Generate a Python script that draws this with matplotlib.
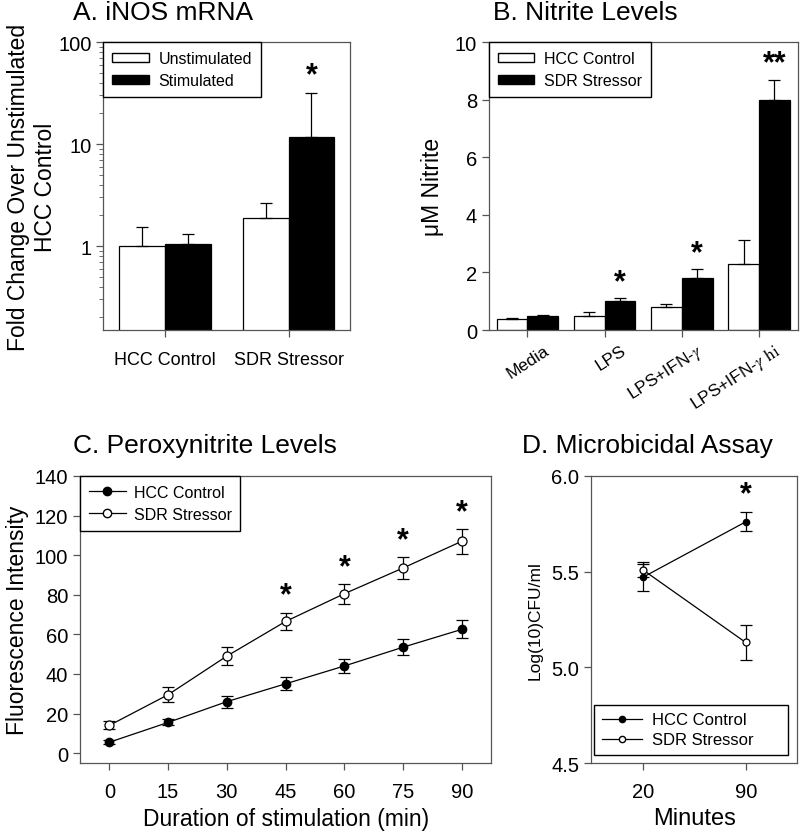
import numpy as np
import matplotlib
matplotlib.use("Agg")
from matplotlib import pyplot as plt
from matplotlib.patches import Patch
from matplotlib.lines import Line2D
from matplotlib.ticker import FixedLocator, FixedFormatter, LogLocator, NullFormatter
from matplotlib.transforms import ScaledTranslation

plt.rcParams['font.family'] = ['Liberation Sans', 'DejaVu Sans']
plt.rcParams['mathtext.fontset'] = 'stix'

# A. iNOS mRNA (log scale)
a_groups = ['HCC Control', 'SDR Stressor']
a_unstim = [1.0, 1.9]
a_unstim_err = [0.53, 0.72]
a_stim = [1.05, 11.6]
a_stim_err = [0.26, 19.8]

# B. Nitrite levels
b_groups = ['Media', 'LPS', r'LPS+IFN-$\gamma$', r'LPS+IFN-$\gamma$ $\mathrm{hi}$']
b_hcc = [0.37, 0.5, 0.8, 2.28]
b_hcc_err = [0.04, 0.13, 0.12, 0.85]
b_sdr = [0.48, 1.0, 1.8, 8.0]
b_sdr_err = [0.05, 0.1, 0.32, 0.7]
b_stars = ['', '*', '*', '**']

# C. Peroxynitrite levels
c_minutes = [0, 15, 30, 45, 60, 75, 90]
c_hcc = [5.5, 15.5, 26, 35, 44, 53.5, 62.5]
c_hcc_err = [1.0, 1.5, 3.0, 3.3, 3.7, 4.0, 4.5]
c_sdr = [14, 29.5, 49, 66.5, 80.5, 93.5, 107]
c_sdr_err = [2.0, 3.7, 4.5, 4.5, 5.0, 5.5, 6.3]
c_star_at = [45, 60, 75, 90]

# D. Microbicidal assay
d_labels = ['20', '90']
d_hcc = [5.47, 5.76]
d_hcc_err = [0.07, 0.05]
d_sdr = [5.51, 5.13]
d_sdr_err = [0.04, 0.09]

spine_col = '#555555'
lw = 0.9
title_fs = 19
label_fs = 16.5
tick_fs = 14.5


def style_axes(ax):
    for s in ax.spines.values():
        s.set_color(spine_col)
        s.set_linewidth(lw)
    ax.tick_params(direction='out', color=spine_col, width=lw, length=5, labelsize=tick_fs)


def star(ax, x, y, txt='*'):
    ax.text(x, y, txt, ha='center', va='center', fontsize=22, fontweight='bold')


def bar_legend(ax, labels):
    ax.legend(handles=[Patch(facecolor='white', edgecolor='black', label=labels[0]),
                       Patch(facecolor='black', edgecolor='black', label=labels[1])],
              loc='upper left', borderaxespad=0, fancybox=False, framealpha=1,
              edgecolor='black', fontsize=11.5, handlelength=2.3, handleheight=0.5,
              handletextpad=0.6, borderpad=0.55, labelspacing=0.45)


fig = plt.figure(figsize=(8, 8.37), dpi=100)

# ---- Panel A ----
ax = fig.add_axes([0.129, 0.6045, 0.309, 0.344])
ax.set_yscale('log')
x = np.arange(len(a_groups))
w = 0.37
ax.bar(x - w / 2, a_unstim, w, color='white', edgecolor='black', linewidth=lw)
ax.bar(x + w / 2, a_stim, w, color='black', edgecolor='black', linewidth=lw)
ax.errorbar(x - w / 2, a_unstim, yerr=[np.zeros(len(x)), a_unstim_err], fmt='none',
            ecolor='black', elinewidth=lw, capsize=4, capthick=lw)
ax.errorbar(x + w / 2, a_stim, yerr=[np.zeros(len(x)), a_stim_err], fmt='none',
            ecolor='black', elinewidth=lw, capsize=4, capthick=lw)
star(ax, x[1] + w / 2, 47)
ax.set_xlim(-0.5, 1.5)
ax.set_ylim(0.15, 100)
ax.set_xticks(x)
ax.yaxis.set_major_locator(FixedLocator([1, 10, 100]))
ax.yaxis.set_major_formatter(FixedFormatter(['1', '10', '100']))
ax.yaxis.set_minor_locator(LogLocator(base=10, subs=np.arange(2, 10)))
ax.yaxis.set_minor_formatter(NullFormatter())
style_axes(ax)
ax.set_xticklabels(a_groups, fontsize=13)
ax.tick_params(axis='y', which='minor', length=3, color=spine_col)
ax.tick_params(axis='x', pad=10)
ax.set_ylabel('Fold Change Over Unstimulated\nHCC Control', fontsize=label_fs,
              labelpad=1, linespacing=1.2)
bar_legend(ax, ['Unstimulated', 'Stimulated'])
fig.text(73 / 800, 1 - 1 / 837, 'A. iNOS mRNA', fontsize=title_fs, ha='left', va='top')

# ---- Panel B ----
ax = fig.add_axes([0.611, 0.6045, 0.386, 0.344])
x = np.arange(len(b_groups))
w = 0.4
ax.bar(x - w / 2, b_hcc, w, color='white', edgecolor='black', linewidth=lw)
ax.bar(x + w / 2, b_sdr, w, color='black', edgecolor='black', linewidth=lw)
ax.errorbar(x - w / 2, b_hcc, yerr=[np.zeros(len(x)), b_hcc_err], fmt='none',
            ecolor='black', elinewidth=lw, capsize=4, capthick=lw)
ax.errorbar(x + w / 2, b_sdr, yerr=[np.zeros(len(x)), b_sdr_err], fmt='none',
            ecolor='black', elinewidth=lw, capsize=4, capthick=lw)
for i, s in enumerate(b_stars):
    if s:
        star(ax, x[i] + w / 2, b_sdr[i] + b_sdr_err[i] + 0.55, s)
ax.set_xlim(-0.5, 3.5)
ax.set_ylim(0, 10)
ax.set_yticks(np.arange(0, 11, 2))
ax.set_xticks(x)
style_axes(ax)
ax.set_xticklabels(b_groups, rotation=33, ha='right', va='center',
                   rotation_mode='anchor', fontsize=12.5)
ax.tick_params(axis='x', pad=8.5)
offset = ScaledTranslation(0.2, 0, fig.dpi_scale_trans)
for lab in ax.get_xticklabels():
    lab.set_transform(lab.get_transform() + offset)
ax.set_ylabel('μM Nitrite', fontsize=label_fs, labelpad=8)
bar_legend(ax, ['HCC Control', 'SDR Stressor'])
fig.text(493 / 800, 1 - 1 / 837, 'B. Nitrite Levels', fontsize=title_fs, ha='left', va='top')

# ---- Panel C ----
ax = fig.add_axes([0.1, 0.0872, 0.514, 0.343])
ax.errorbar(c_minutes, c_hcc, yerr=c_hcc_err, color='black', lw=lw, marker='o',
            ms=6, mfc='black', mec='black', capsize=4, capthick=lw, elinewidth=lw)
ax.errorbar(c_minutes, c_sdr, yerr=c_sdr_err, color='black', lw=lw, marker='o',
            ms=6.5, mfc='white', mec='black', mew=lw, capsize=4, capthick=lw, elinewidth=lw)
for m in c_star_at:
    i = c_minutes.index(m)
    star(ax, m, c_sdr[i] + c_sdr_err[i] + 8.5)
ax.set_xlim(-7.5, 97.5)
ax.set_ylim(-5, 140)
ax.set_xticks(c_minutes)
ax.set_yticks(np.arange(0, 141, 20))
style_axes(ax)
ax.tick_params(axis='x', pad=9)
ax.set_xlabel('Duration of stimulation (min)', fontsize=label_fs, labelpad=4)
ax.set_ylabel('Fluorescence Intensity', fontsize=label_fs, labelpad=4)
ax.legend(handles=[Line2D([0], [0], color='black', lw=lw, marker='o', ms=6, mfc='black', label='HCC Control'),
                   Line2D([0], [0], color='black', lw=lw, marker='o', ms=6, mfc='white', label='SDR Stressor')],
          loc='upper left', borderaxespad=0, fancybox=False, framealpha=1,
          edgecolor='black', fontsize=11.5, handlelength=2.3, handletextpad=0.5,
          borderpad=0.55, labelspacing=0.45)
fig.text(73 / 800, 1 - 434 / 837, 'C. Peroxynitrite Levels', fontsize=title_fs, ha='left', va='top')

# ---- Panel D ----
ax = fig.add_axes([0.739, 0.0872, 0.2575, 0.343])
xd = np.arange(len(d_labels))
ax.errorbar(xd, d_hcc, yerr=d_hcc_err, color='black', lw=lw, marker='o',
            ms=4.5, mfc='black', mec='black', capsize=4, capthick=lw, elinewidth=lw)
ax.errorbar(xd, d_sdr, yerr=d_sdr_err, color='black', lw=lw, marker='o',
            ms=5, mfc='white', mec='black', mew=lw, capsize=4, capthick=lw, elinewidth=lw)
star(ax, xd[1], 5.905)
ax.set_xlim(-0.5, 1.5)
ax.set_ylim(4.5, 6.0)
ax.set_xticks(xd)
ax.set_yticks([4.5, 5.0, 5.5, 6.0])
style_axes(ax)
ax.set_xticklabels(d_labels)
ax.set_yticklabels(['4.5', '5.0', '5.5', '6.0'])
ax.tick_params(axis='x', pad=9)
ax.set_xlabel('Minutes', fontsize=17, labelpad=4)
ax.set_ylabel('Log(10)CFU/ml', fontsize=12.5, labelpad=6)
ax.legend(handles=[Line2D([0], [0], color='black', lw=lw, marker='o', ms=4.5, mfc='black', label='HCC Control'),
                   Line2D([0], [0], color='black', lw=lw, marker='o', ms=4.5, mfc='white', label='SDR Stressor')],
          loc='lower left', bbox_to_anchor=(0.015, 0.028, 0.942, 0.2), mode='expand',
          borderaxespad=0, fancybox=False, framealpha=1,
          edgecolor='black', fontsize=12, handlelength=2.4, handletextpad=0.6,
          borderpad=0.45, labelspacing=0.3)
fig.text(773 / 800, 1 - 434 / 837, 'D. Microbicidal Assay', fontsize=title_fs, ha='right', va='top')

fig.savefig('out.png', dpi=100)
